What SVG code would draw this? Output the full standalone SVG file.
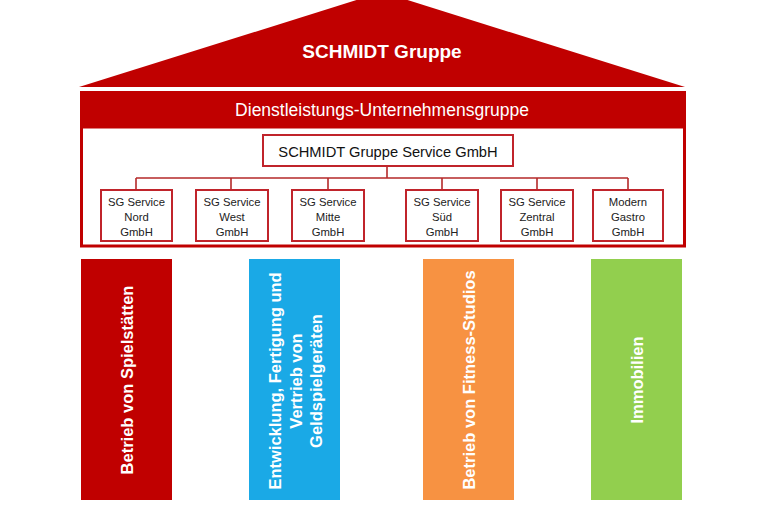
<svg xmlns="http://www.w3.org/2000/svg" width="762" height="508" viewBox="0 0 762 508">
<style>
.red{fill:#C00000}
.box{fill:#fff;stroke:#C0242B;stroke-width:2}
.ln{fill:none;stroke:#B52A2A;stroke-width:1.6}
.t{font-family:"Liberation Sans",Arial,sans-serif}
.w{fill:#fff;font-weight:bold}
.small{font-size:11.3px;fill:#222;text-anchor:middle}
.pl{font-size:16.5px;text-anchor:middle}
</style>
<rect width="762" height="508" fill="#fff"/>
<g id="roof">
<polygon class="red" points="382,-8 685,87 79,87"/>
<text class="t w" x="382" y="58" font-size="19" text-anchor="middle">SCHMIDT Gruppe</text>
</g>
<g id="band">
<rect class="red" x="80" y="91" width="606" height="37"/>
<text class="t" x="382" y="116" font-size="17.5" fill="#fff" text-anchor="middle">Dienstleistungs-Unternehmensgruppe</text>
</g>
<g id="frame">
<rect x="81.5" y="127" width="603" height="119" fill="none" stroke="#C00000" stroke-width="3"/>
</g>
<g id="connectors">
<path class="ln" d="M387,166V178M136,178H628M136,178V190M231,178V190M328,178V190M442,178V190M537,178V190M628,178V190"/>
</g>
<g id="parent">
<rect class="box" x="263" y="135" width="250" height="31"/>
<text class="t" x="388" y="157" font-size="14.7" fill="#111" text-anchor="middle">SCHMIDT Gruppe Service GmbH</text>
</g>
<g id="nord">
<rect class="box" x="101" y="190" width="71" height="51"/>
<text class="t small" x="136.5" y="206">SG Service<tspan x="136.5" dy="15">Nord</tspan><tspan x="136.5" dy="15">GmbH</tspan></text>
</g>
<g id="west">
<rect class="box" x="196" y="190" width="72" height="51"/>
<text class="t small" x="232" y="206">SG Service<tspan x="232" dy="15">West</tspan><tspan x="232" dy="15">GmbH</tspan></text>
</g>
<g id="mitte">
<rect class="box" x="292" y="190" width="72" height="51"/>
<text class="t small" x="328" y="206">SG Service<tspan x="328" dy="15">Mitte</tspan><tspan x="328" dy="15">GmbH</tspan></text>
</g>
<g id="sued">
<rect class="box" x="406" y="190" width="72" height="51"/>
<text class="t small" x="442" y="206">SG Service<tspan x="442" dy="15">Süd</tspan><tspan x="442" dy="15">GmbH</tspan></text>
</g>
<g id="zentral">
<rect class="box" x="501" y="190" width="72" height="51"/>
<text class="t small" x="537" y="206">SG Service<tspan x="537" dy="15">Zentral</tspan><tspan x="537" dy="15">GmbH</tspan></text>
</g>
<g id="gastro">
<rect class="box" x="593" y="190" width="70" height="51"/>
<text class="t small" x="628" y="206">Modern<tspan x="628" dy="15">Gastro</tspan><tspan x="628" dy="15">GmbH</tspan></text>
</g>
<g id="pillar1">
<rect x="81" y="259" width="91" height="241" fill="#C00000"/>
<text class="t w pl" transform="translate(133,380) rotate(-90)">Betrieb von Spielstätten</text>
</g>
<g id="pillar2">
<rect x="249" y="259" width="91" height="241" fill="#1AA9E6"/>
<text class="t w pl" transform="translate(281,381) rotate(-90)">Entwicklung, Fertigung und<tspan x="0" dy="20.5">Vertrieb von</tspan><tspan x="0" dy="20.5">Geldspielgeräten</tspan></text>
</g>
<g id="pillar3">
<rect x="423" y="259" width="91" height="241" fill="#F79242"/>
<text class="t w pl" transform="translate(475,380) rotate(-90)">Betrieb von Fitness-Studios</text>
</g>
<g id="pillar4">
<rect x="591" y="259" width="91" height="241" fill="#92CF4E"/>
<text class="t w pl" transform="translate(643,380) rotate(-90)">Immobilien</text>
</g>
</svg>
